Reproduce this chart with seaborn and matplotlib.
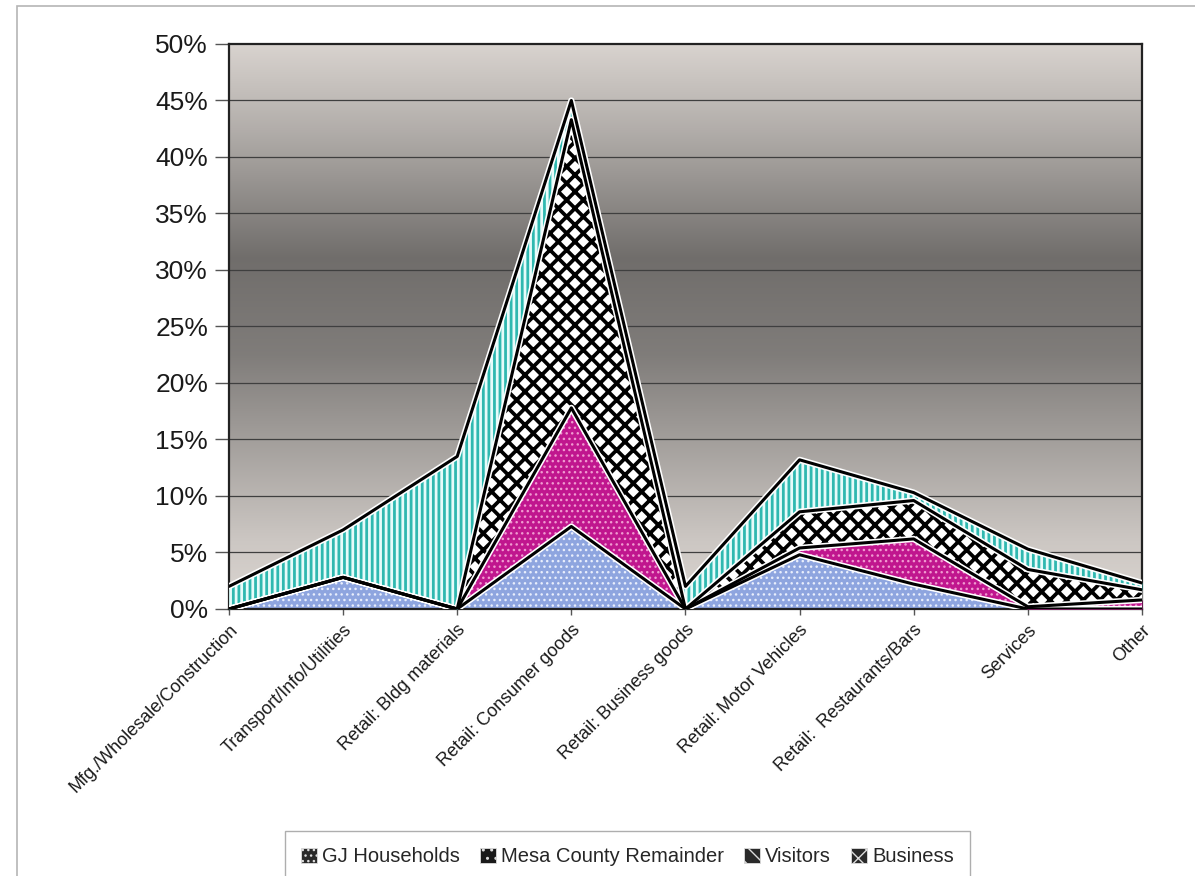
import numpy as np
import matplotlib
matplotlib.use("Agg")
import matplotlib.pyplot as plt
from matplotlib.patches import Patch, Rectangle
import seaborn as sns

# data (percent of sales)
categories = ["Mfg./Wholesale/Construction", "Transport/Info/Utilities", "Retail: Bldg materials",
              "Retail: Consumer goods", "Retail: Business goods", "Retail: Motor Vehicles",
              "Retail:  Restaurants/Bars", "Services", "Other"]
gj_households = [0.0, 2.8, 0.0, 7.3, 0.0, 4.8, 2.2, 0.0, 0.0]
mesa_remainder = [0.0, 0.0, 0.0, 10.5, 0.0, 0.6, 4.0, 0.2, 0.8]
visitors = [0.0, 0.0, 0.0, 25.5, 0.0, 3.2, 3.4, 3.3, 0.9]
business = [2.0, 4.2, 13.5, 1.7, 2.0, 4.6, 0.7, 1.8, 0.6]
series_names = ["GJ Households", "Mesa County Remainder", "Visitors", "Business"]
y_ticks = [0, 5, 10, 15, 20, 25, 30, 35, 40, 45, 50]

sns.set_theme(style="white")
plt.rcParams["font.family"] = ["Liberation Sans", "DejaVu Sans"]
plt.rcParams["hatch.linewidth"] = 2.4

# face colour, hatch, hatch colour, hatch width
styles = [
    ("#8ea5df", "...", "#e8eefc", 1.0),
    ("#c0168e", "...", "#f09ad0", 1.0),
    ("#ffffff", "xx", "#000000", 2.7),
    ("#2fb8b0", "|||", "#e6fbfa", 2.0),
]

fig = plt.figure(figsize=(11.95, 8.76), dpi=100)
ax = fig.add_axes([0.1916, 0.3048, 0.7640, 0.6450])
fig.add_artist(Rectangle((0.014, -0.02), 0.99, 1.013, transform=fig.transFigure,
                         fill=False, edgecolor="#b5b5b5", lw=1.2))

x = np.arange(len(categories))
ax.set_xlim(0, len(categories) - 1)
ax.set_ylim(0, 50)

# grey gradient backdrop (light at top and bottom, dark in the middle)
pos = np.linspace(0, 1, 300)
shade = np.interp(pos, [0.0, 0.12, 0.45, 0.62, 0.85, 1.0], [0.86, 0.80, 0.50, 0.44, 0.70, 0.85])
grad = np.dstack([shade, shade * 0.975, shade * 0.955])[::-1].transpose(1, 0, 2)
ax.imshow(grad.reshape(300, 1, 3), extent=[0, len(categories) - 1, 0, 50], aspect="auto",
          origin="lower", zorder=0)
for yt in y_ticks[1:-1]:
    ax.axhline(yt, color="#3f3f3f", lw=0.9, zorder=1)

stack = np.vstack([gj_households, mesa_remainder, visitors, business])
tops = np.cumsum(stack, axis=0)
bottoms = np.vstack([np.zeros(len(categories)), tops[:-1]])

for i, (face, hatch, hcol, hlw) in enumerate(styles):
    ax.fill_between(x, bottoms[i], tops[i], facecolor=face, lw=0, zorder=2 + i)
    with plt.rc_context({"hatch.linewidth": hlw}):
        coll = ax.fill_between(x, bottoms[i], tops[i], facecolor="none", edgecolor=hcol,
                               hatch=hatch, lw=0, zorder=2 + i)
        if hasattr(coll, "set_hatch_linewidth"):
            coll.set_hatch_linewidth(hlw)

for i in range(len(series_names)):
    sns.lineplot(x=x, y=tops[i], color="white", lw=4.5, ax=ax, zorder=7, legend=False)
    sns.lineplot(x=x, y=tops[i], color="black", lw=2.2, ax=ax, zorder=8, legend=False)

ax.set_xticks(x)
ax.set_xticklabels(categories, rotation=45, ha="right", rotation_mode="anchor", fontsize=13,
                   color="#1a1a1a")
ax.set_yticks(y_ticks)
ax.set_yticklabels([f"{t}%" for t in y_ticks], fontsize=19, color="#1a1a1a")
ax.tick_params(axis="y", length=10, width=1, color="#555555", pad=5, left=True)
ax.tick_params(axis="x", length=4, width=1, color="#555555", pad=5, bottom=True)
for s in ax.spines.values():
    s.set_color("#222222")
    s.set_linewidth(1.6)
ax.set_xlabel("")
ax.set_ylabel("")

# legend keys: dark squares with a light pattern, as in the original
legend_keys = [("#2a2a2a", "..."), ("#1a1a1a", ".."), ("#2a2a2a", "\\\\"), ("#2a2a2a", "xx")]
handles = []
for (kface, khatch), name in zip(legend_keys, series_names):
    handles.append(Patch(facecolor=kface, edgecolor="#dddddd", hatch=khatch, lw=0.6, label=name))
with plt.rc_context({"hatch.linewidth": 1.0}):
    leg = fig.legend(handles=handles, loc="center", ncol=4, fontsize=14.5, frameon=True,
                     fancybox=False, handlelength=0.8, handleheight=0.8, handletextpad=0.25,
                     columnspacing=1.0, borderpad=0.8)
leg.set_bbox_to_anchor((0.525, 0.022), transform=fig.transFigure)
leg.get_frame().set_edgecolor("#9a9a9a")
leg.get_frame().set_linewidth(1.0)

fig.savefig("out.png", dpi=100, facecolor="white")
